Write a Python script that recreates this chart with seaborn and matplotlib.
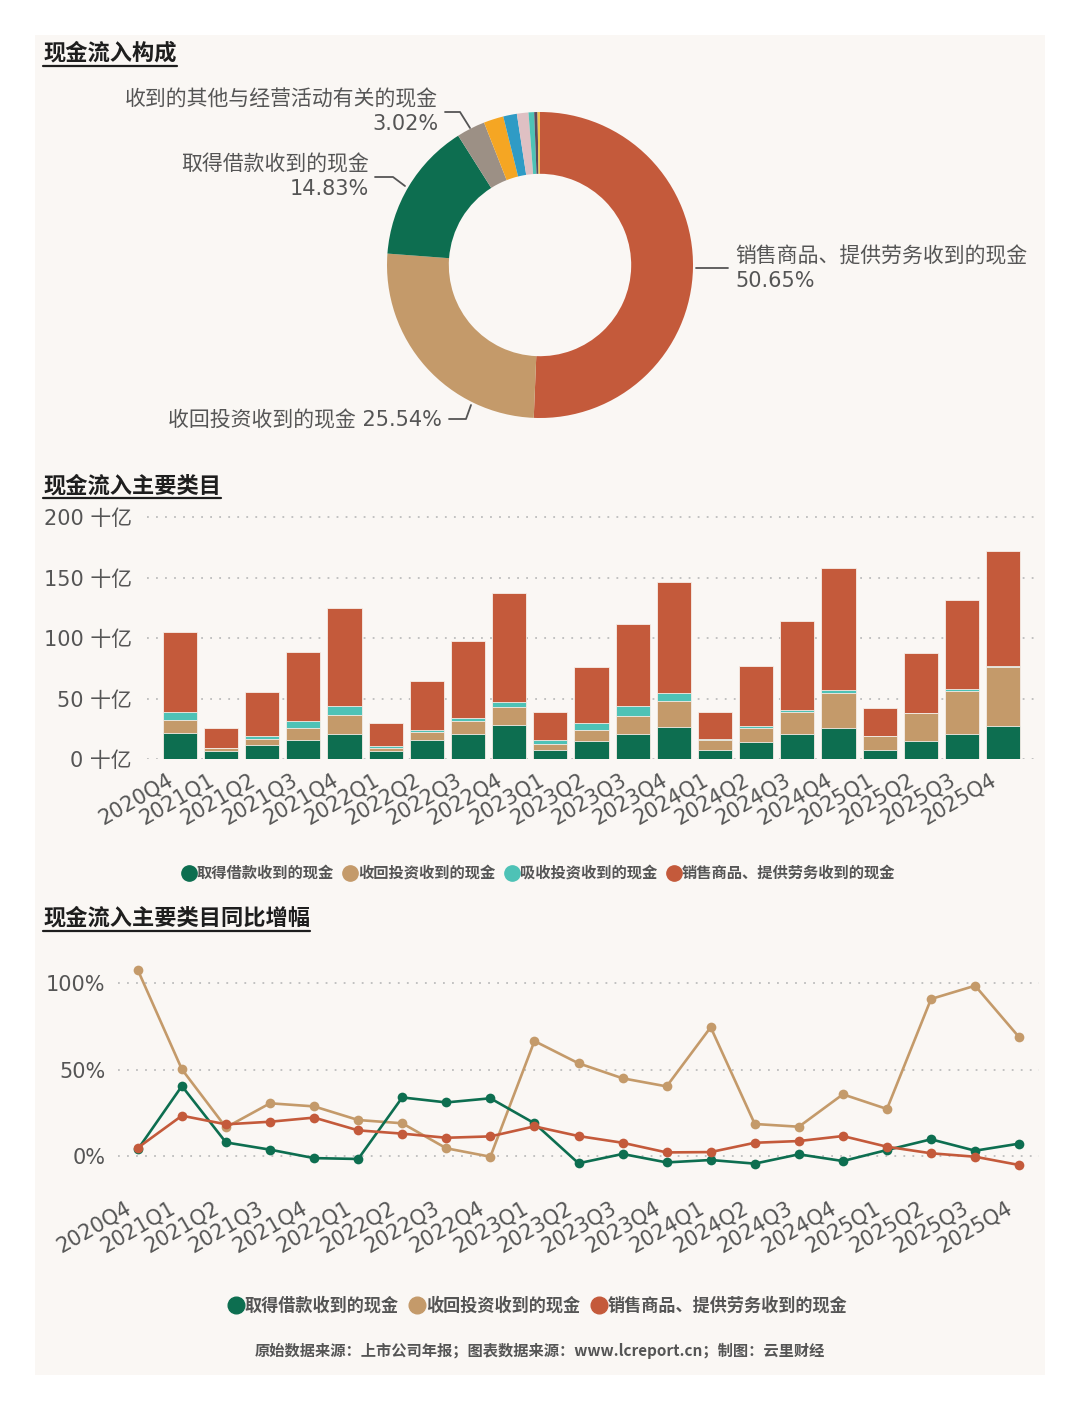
import numpy as np
import pandas as pd
import matplotlib
matplotlib.use("Agg")
import matplotlib.pyplot as plt
import seaborn as sns
from matplotlib.lines import Line2D
from matplotlib.patches import Rectangle
from matplotlib.transforms import ScaledTranslation

# ---------------- data ----------------
quarters = ['2020Q4', '2021Q1', '2021Q2', '2021Q3', '2021Q4', '2022Q1', '2022Q2',
            '2022Q3', '2022Q4', '2023Q1', '2023Q2', '2023Q3', '2023Q4', '2024Q1',
            '2024Q2', '2024Q3', '2024Q4', '2025Q1', '2025Q2', '2025Q3', '2025Q4']

pie_labels = ['销售商品、提供劳务收到的现金', '收回投资收到的现金', '取得借款收到的现金',
              '收到的其他与经营活动有关的现金', '收到的税费返还', '取得投资收益收到的现金',
              '处置资产收回的现金净额', '吸收投资收到的现金', '收到其他与投资活动有关的现金',
              '收到其他与筹资活动有关的现金']
pie_values = [50.65, 25.54, 14.83, 3.02, 2.10, 1.44, 1.22, 0.59, 0.35, 0.26]

# bar chart (十亿)
borrow = [21.6, 6.4, 11.3, 16.0, 21.0, 6.4, 15.5, 20.5, 27.9, 7.2, 14.6, 20.5, 26.5,
          7.2, 14.1, 20.5, 25.4, 7.2, 15.2, 21.0, 27.1]
invest_back = [11.0, 2.4, 5.3, 9.4, 15.2, 2.7, 6.9, 10.5, 14.7, 5.2, 9.7, 15.4, 21.3,
               8.8, 11.3, 18.7, 28.8, 11.6, 22.9, 35.1, 49.2]
absorb = [6.4, 0.3, 2.2, 5.6, 7.2, 1.7, 1.4, 2.7, 4.9, 3.6, 5.8, 7.5, 6.9,
          0.3, 2.2, 1.4, 2.5, 0.2, 0.2, 1.4, 0.2]
sales = [66.3, 16.6, 36.8, 57.7, 81.0, 19.3, 40.9, 63.6, 89.9, 23.0, 45.9, 68.3, 91.5,
         22.7, 49.0, 73.8, 101.4, 23.5, 49.3, 73.8, 95.6]

# YoY growth (%)
borrow_yoy = [3.7, 40.4, 7.7, 3.5, -1.4, -1.9, 33.8, 30.9, 33.3, 18.8, -4.4, 1.0, -3.9,
              -2.5, -4.6, 0.8, -3.1, 3.3, 9.5, 2.9, 7.0]
invest_yoy = [107.7, 50.1, 16.4, 30.4, 28.6, 20.7, 18.8, 4.3, -0.6, 66.5, 53.6, 44.9, 40.2,
              74.5, 18.4, 16.8, 35.6, 27.1, 90.9, 98.6, 68.7]
sales_yoy = [4.6, 23.2, 18.2, 19.7, 22.1, 14.7, 12.8, 10.4, 11.2, 17.0, 11.4, 7.5, 1.9,
             2.1, 7.5, 8.5, 11.4, 5.2, 1.4, -0.6, -5.4]

bar_ticks = [0, 50, 100, 150, 200]
line_ticks = [0, 50, 100]

# ---------------- style ----------------
C_GREEN = '#0D6E50'
C_TAN = '#C49A6A'
C_TEAL = '#4EC2B6'
C_RED = '#C45A3B'
pie_colors = [C_RED, C_TAN, C_GREEN, '#9C9085', '#F5A623', '#2F9BC5', '#DFC0C3',
              '#4EC2B6', '#5B4A5E', '#F2C14E']
BG = '#FAF7F4'
TXT = '#555555'

sns.set_theme(style='white')
plt.rcParams['font.family'] = ['DejaVu Sans', 'Noto Sans CJK SC']
plt.rcParams['axes.unicode_minus'] = False
CJK = ['Noto Sans CJK SC', 'DejaVu Sans']
MIX = ['DejaVu Sans', 'Noto Sans CJK SC']

W, H = 1080, 1410
fig = plt.figure(figsize=(W / 100, H / 100), dpi=100, facecolor='white')


def fx(x):
    return x / W


def fy(y):
    return 1 - y / H


def ax_px(left, top, right, bottom):
    return fig.add_axes([fx(left), fy(bottom), (right - left) / W, (bottom - top) / H])


fig.patches.append(Rectangle((fx(35), fy(1375)), (1045 - 35) / W, (1375 - 35) / H,
                             transform=fig.transFigure, facecolor=BG, edgecolor='none',
                             zorder=-10))

titles = []


def title(text, x, y):
    t = fig.text(fx(x), fy(y), text, fontsize=16, fontweight='bold', color='#1E1E1E',
                 family=CJK, ha='left', va='center')
    titles.append(t)


title('现金流入构成', 43, 53)
title('现金流入主要类目', 43, 486)
title('现金流入主要类目同比增幅', 43, 918)

# ---------------- pie ----------------
cx, cy, R = 540, 265, 153
side = R * 2.5
axp = ax_px(cx - side / 2, cy - side / 2, cx + side / 2, cy + side / 2)
axp.pie(pie_values, colors=pie_colors, startangle=90, counterclock=False,
        wedgeprops=dict(width=0.404, edgecolor='none'), radius=1.0)
axp.set_xlim(-1.25, 1.25)
axp.set_ylim(-1.25, 1.25)
axp.set_aspect('equal')
axp.axis('off')


def leader(pts):
    xs = [fx(p[0]) for p in pts]
    ys = [fy(p[1]) for p in pts]
    fig.add_artist(Line2D(xs, ys, transform=fig.transFigure, color='#555555', lw=1.3))


def plabel(text, x, y, ha):
    fig.text(fx(x), fy(y), text, fontsize=15, color=TXT, family=MIX, ha=ha, va='center',
             fontweight=500)


plabel(pie_labels[0], 735, 256, 'left')
plabel(f'{pie_values[0]:.2f}%', 735, 281, 'left')
leader([(696, 268), (728, 268)])

plabel(f'{pie_labels[1]} {pie_values[1]:.2f}%', 442, 420, 'right')
leader([(471, 405), (466, 419), (449, 419)])

plabel(pie_labels[2], 369, 164, 'right')
plabel(f'{pie_values[2]:.2f}%', 369, 189, 'right')
leader([(375, 177), (393, 177), (405, 186)])

plabel(pie_labels[3], 438, 99, 'right')
plabel(f'{pie_values[3]:.2f}%', 438, 124, 'right')
leader([(445, 112), (460, 112), (470, 128)])

# ---------------- stacked bars ----------------
df = pd.DataFrame({'q': quarters, 'borrow': borrow, 'invest': invest_back,
                   'absorb': absorb, 'sales': sales})
df['c1'] = df['borrow']
df['c2'] = df['c1'] + df['invest']
df['c3'] = df['c2'] + df['absorb']
df['c4'] = df['c3'] + df['sales']

axb = ax_px(147, 517 - 2 * 1.21, 1036, 759)
axb.set_facecolor('none')
for col, c in [('c4', C_RED), ('c3', C_TEAL), ('c2', C_TAN), ('c1', C_GREEN)]:
    sns.barplot(data=df, x='q', y=col, order=quarters, color=c, width=0.83,
                saturation=1, edgecolor='#F6EEE8', linewidth=0.6, ax=axb, zorder=3)
axb.set_xlim(-0.8, 20.8)
axb.set_ylim(0, 202)
axb.set_yticks(bar_ticks)
axb.set_yticklabels([f'{v} 十亿' for v in bar_ticks])
axb.set_xlabel('')
axb.set_ylabel('')
for v in bar_ticks:
    axb.axhline(v, color='#BDBDBD', lw=1.3, ls=(0, (1, 4)), zorder=1)
for s in axb.spines.values():
    s.set_visible(False)
axb.tick_params(axis='y', length=0, pad=11, labelsize=15, labelcolor=TXT)
axb.tick_params(axis='x', length=0, pad=8, labelsize=15, labelcolor=TXT)
axb.set_xticks(range(len(quarters)))
axb.set_xticklabels(quarters, rotation=30, ha='right', rotation_mode='anchor')

h_bar = [Line2D([], [], marker='o', ls='', color=c, markersize=11)
         for c in [C_GREEN, C_TAN, C_TEAL, C_RED]]
fig.legend(h_bar, ['取得借款收到的现金', '收回投资收到的现金', '吸收投资收到的现金',
                   '销售商品、提供劳务收到的现金'],
           loc='center', bbox_to_anchor=(fx(538), fy(873)), ncol=4, frameon=False,
           prop=dict(family=CJK, size=11, weight='bold'), labelcolor=TXT,
           handletextpad=0.0, columnspacing=0.6, handlelength=1.0)

# ---------------- lines ----------------
ppx = 1.724
axl = ax_px(118, 983.3 - 15 * ppx, 1039, 1155.7 + 10 * ppx)
axl.set_facecolor('none')
idx = np.arange(len(quarters))
for vals, c in [(invest_yoy, C_TAN), (borrow_yoy, C_GREEN), (sales_yoy, C_RED)]:
    sns.lineplot(x=idx, y=vals, color=c, lw=1.9, marker='o', markersize=7,
                 markeredgewidth=0, ax=axl, zorder=3)
axl.set_xlim(-0.45, 20.45)
axl.set_ylim(-10, 115)
axl.set_yticks(line_ticks)
axl.set_yticklabels([f'{v}%' for v in line_ticks])
for v in line_ticks:
    axl.axhline(v, color='#BDBDBD', lw=1.3, ls=(0, (1, 4)), zorder=1)
for s in axl.spines.values():
    s.set_visible(False)
axl.set_xticks(idx)
axl.set_xticklabels(quarters, rotation=30, ha='right', rotation_mode='anchor')
axl.tick_params(axis='y', length=0, pad=9, labelsize=15, labelcolor=TXT)
axl.tick_params(axis='x', length=0, pad=18, labelsize=15, labelcolor=TXT)

h_line = [Line2D([], [], marker='o', ls='', color=c, markersize=12)
          for c in [C_GREEN, C_TAN, C_RED]]
fig.legend(h_line, ['取得借款收到的现金', '收回投资收到的现金', '销售商品、提供劳务收到的现金'],
           loc='center', bbox_to_anchor=(fx(537), fy(1306)), ncol=3, frameon=False,
           prop=dict(family=CJK, size=12.3, weight='bold'), labelcolor=TXT,
           handletextpad=0.0, columnspacing=0.6, handlelength=1.0)

fig.text(fx(540), fy(1351), '原始数据来源：上市公司年报；图表数据来源：www.lcreport.cn；制图：云里财经',
         fontsize=11, fontweight='bold', color=TXT, family=CJK, ha='center', va='center')

# shift rotated tick labels left, as in the reference
shift = ScaledTranslation(-13 / 100, 0, fig.dpi_scale_trans)
for ax in (axb, axl):
    for lbl in ax.get_xticklabels():
        lbl.set_transform(lbl.get_transform() + shift)

# underline titles
fig.canvas.draw()
rend = fig.canvas.get_renderer()
for t in titles:
    bb = t.get_window_extent(rend)
    yline = bb.y0 - 1
    fig.add_artist(Line2D([bb.x0 / W, bb.x1 / W], [yline / H, yline / H],
                          transform=fig.transFigure, color='#1E1E1E', lw=1.6))

fig.savefig('out.png', dpi=100, facecolor='white')
